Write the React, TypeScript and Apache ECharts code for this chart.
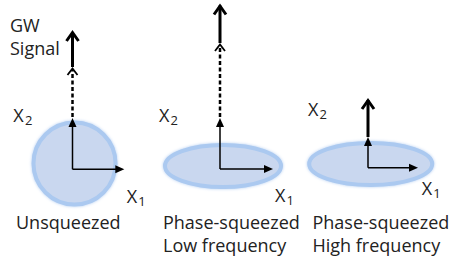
import React, { useEffect, useRef } from "react";
import * as echarts from "echarts";

// Panel captions
const panelCaptions = ["Unsqueezed", "Phase-squeezed\nLow frequency", "Phase-squeezed\nHigh frequency"];
// Origin of each quadrature frame (X1, X2), in diagram units
const originX = [7.25, 22.0, 36.8];
const originY = [9.07, 9.1, 9.23];
// Noise ellipse: centre offset from origin and semi-axes (diagram units)
const noiseDX = [0.2, 0.3, 0.27];
const noiseDY = [0.58, 0.3, 0.37];
const noiseRX = [4.1, 5.8, 6.15];
const noiseRY = [4.1, 2.1, 2.1];
// Quadrature axis lengths
const x1Len = [5.18, 5.3, 5.0];
const x2Len = [5.13, 5.1, 3.07];
// Dashed extension and GW signal arrow length
const dashedLen = [5.1, 7.5, 0];
const signalLen = [3.7, 3.95, 3.9];

const FONT = "'Open Sans', 'Noto Sans', sans-serif";
const TXT = "#222";

// layout offsets for the text labels (px, relative to the origin)
const x2LabelOff = [[-59.2, -54.3], [-61, -54], [-60, -58.7]];
const x1LabelOff = [[54.2, 27], [55, 26], [53.7, 20.5]];
const captionOff = [-56.5, -57, -55.5];

export default function App() {
  const ref = useRef<HTMLDivElement>(null);
  useEffect(() => {
    if (!ref.current) return;
    const chart = echarts.init(ref.current, null, { renderer: "svg" });
    const data = originX.map((x, i) => [x, originY[i]]);

    const renderItem = (params: any, api: any) => {
      const i = params.dataIndex;
      const o = api.coord([api.value(0), api.value(1)]);
      const s = api.size([1, 1]);
      const ux = s[0], uy = s[1];
      const ox = o[0], oy = o[1];
      const children: any[] = [];
      children.push({
        type: "ellipse",
        shape: { cx: ox + noiseDX[i] * ux, cy: oy - noiseDY[i] * uy, rx: noiseRX[i] * ux, ry: noiseRY[i] * uy },
        style: { fill: "#c9d7ef", stroke: "#abc9f0", lineWidth: 4, shadowBlur: 3, shadowColor: "rgba(170,200,240,0.9)" },
      });
      const x1Tip = ox + x1Len[i] * ux;
      const x2Tip = oy - x2Len[i] * uy;
      children.push({ type: "line", shape: { x1: ox, y1: oy, x2: x1Tip - 6, y2: oy }, style: { stroke: "#000", lineWidth: 1.5 } });
      children.push({ type: "polygon", shape: { points: [[x1Tip, oy], [x1Tip - 9, oy - 4], [x1Tip - 9, oy + 4]] }, style: { fill: "#000" } });
      children.push({ type: "line", shape: { x1: ox, y1: oy, x2: ox, y2: x2Tip + 6 }, style: { stroke: "#000", lineWidth: 1.5 } });
      children.push({ type: "polygon", shape: { points: [[ox, x2Tip], [ox - 4, x2Tip + 9], [ox + 4, x2Tip + 9]] }, style: { fill: "#000" } });
      let base = x2Tip;
      if (dashedLen[i] > 0) {
        const top = x2Tip - dashedLen[i] * uy;
        children.push({ type: "line", shape: { x1: ox, y1: x2Tip - 1, x2: ox, y2: top + 2 }, style: { stroke: "#000", lineWidth: 2.5, lineDash: [4, 2.5] } });
        children.push({ type: "polyline", shape: { points: [[ox - 5, top + 8], [ox, top + 1.5], [ox + 5, top + 8]] }, style: { stroke: "#000", lineWidth: 1.8, fill: null } });
        base = top;
      }
      const sTip = base - signalLen[i] * uy;
      children.push({ type: "line", shape: { x1: ox, y1: base, x2: ox, y2: sTip + 2 }, style: { stroke: "#000", lineWidth: 3 } });
      children.push({ type: "polyline", shape: { points: [[ox - 6, sTip + 11], [ox, sTip + 2.5], [ox + 6, sTip + 11]] }, style: { stroke: "#000", lineWidth: 3, fill: null, lineJoin: "miter" } });

      const lab = (x: number, y: number, main: string, sub: string) => {
        children.push({ type: "text", x, y, style: { text: main, fontSize: 18, fontFamily: FONT, fill: TXT, align: "left", verticalAlign: "middle" } });
        children.push({ type: "text", x: x + 11.6, y: y + 4.5, style: { text: sub, fontSize: 13, fontFamily: FONT, fill: TXT, align: "left", verticalAlign: "middle" } });
      };
      lab(ox + x2LabelOff[i][0], oy + x2LabelOff[i][1], "X", "2");
      lab(ox + x1LabelOff[i][0], oy + x1LabelOff[i][1], "X", "1");
      children.push({
        type: "text",
        x: ox + captionOff[i],
        y: 210.5,
        style: { text: panelCaptions[i], fontSize: 18, fontFamily: FONT, fill: TXT, lineHeight: 23, align: "left", verticalAlign: "top" },
      });
      return { type: "group", children };
    };

    chart.setOption({
      animation: false,
      backgroundColor: "#fff",
      grid: { left: 0, right: 0, top: 0, bottom: 0 },
      xAxis: { type: "value", min: 0, max: 46.2, show: false },
      yAxis: { type: "value", min: 0, max: 26, show: false },
      graphic: [
        {
          type: "text",
          x: 10,
          y: 13,
          style: { text: "GW\nSignal", fontSize: 18, fontFamily: FONT, fill: TXT, lineHeight: 23.5, verticalAlign: "top" },
        },
      ],
      series: [
        {
          type: "custom",
          coordinateSystem: "cartesian2d",
          clip: false,
          data,
          renderItem,
        },
      ],
    });
    return () => chart.dispose();
  }, []);
  return <div ref={ref} style={{ position: "absolute", left: 0, top: 0, width: 462, height: 260 }} />;
}
